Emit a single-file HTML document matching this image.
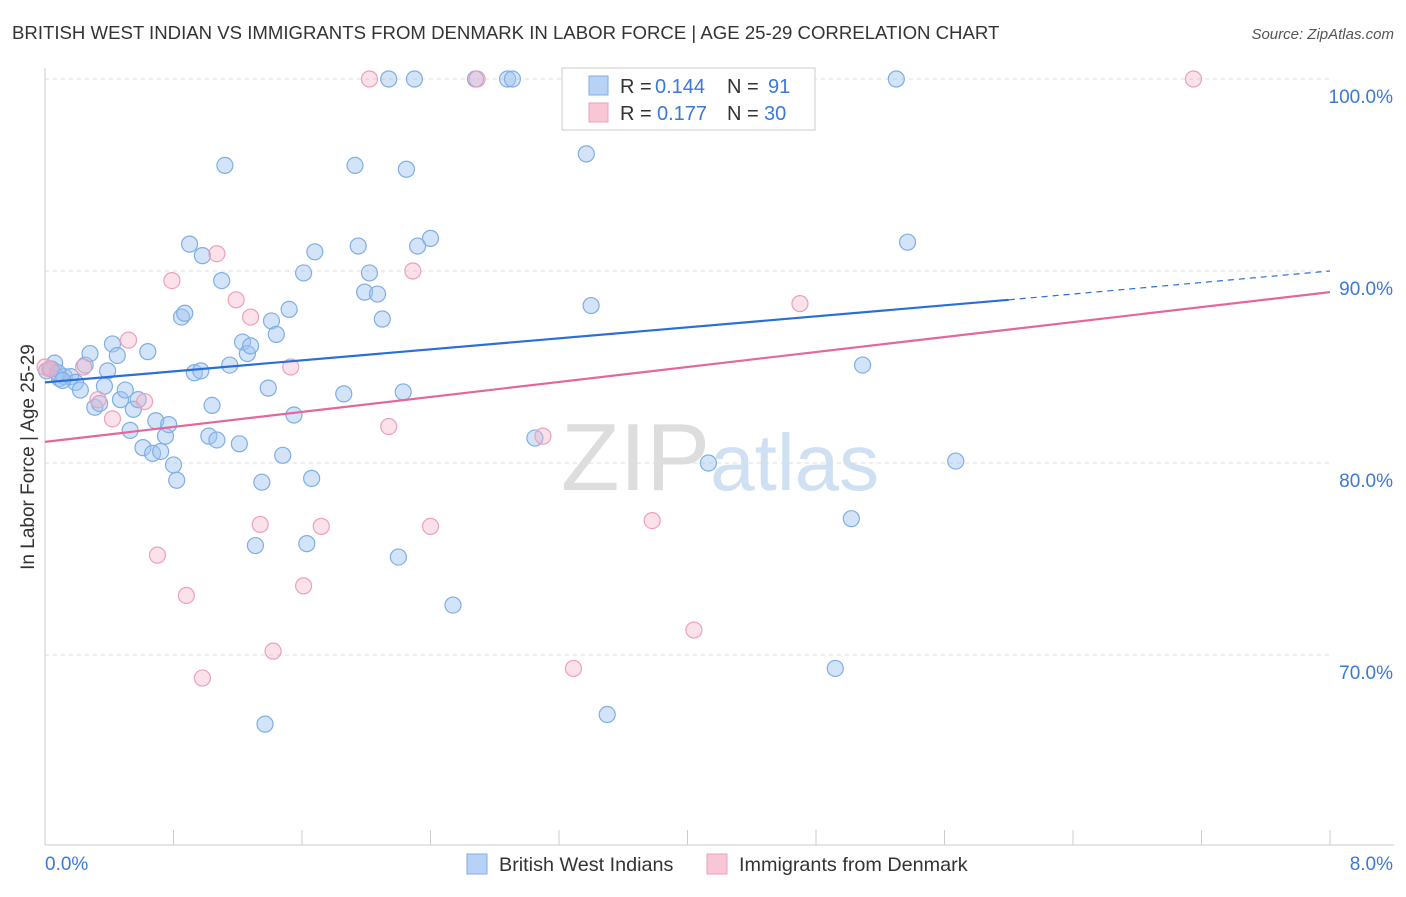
<!DOCTYPE html>
<html><head><meta charset="utf-8"><style>
body{margin:0;background:#fff;font-family:"Liberation Sans",sans-serif;}
svg text{font-family:"Liberation Sans",sans-serif;}
</style></head><body>
<svg id="chart" width="1406" height="892">
<text x="12" y="39" font-size="18.6" fill="#333">BRITISH WEST INDIAN VS IMMIGRANTS FROM DENMARK IN LABOR FORCE | AGE 25-29 CORRELATION CHART</text>
<text x="1394" y="39" font-size="15" fill="#555" font-style="italic" text-anchor="end">Source: ZipAtlas.com</text>
<text x="720" y="490" font-size="96" fill="#ddd" text-anchor="middle" font-family="Liberation Serif">ZIP<tspan fill="#cfe0f3" font-family="Liberation Sans" font-size="80">atlas</tspan></text>
<g id="grid"></g>
<g id="axes"></g>
<g id="points"></g>
<g id="trends"></g>
<text transform="translate(34,457) rotate(-90)" font-size="19" fill="#333" text-anchor="middle">In Labor Force | Age 25-29</text>
<g>
<rect x="562" y="68" width="253" height="62" fill="#fff" stroke="#ccc"/>
<rect x="589" y="76" width="19" height="19" fill="#b7d2f4" stroke="#7eaee6"/>
<rect x="589" y="103" width="19" height="19" fill="#f8c6d5" stroke="#eea0b8"/>
<text x="620" y="93" font-size="20" fill="#333">R =</text>
<text x="655" y="93" font-size="20" fill="#3b78d8">0.144</text>
<text x="727" y="93" font-size="20" fill="#333">N =</text>
<text x="768" y="93" font-size="20" fill="#3b78d8">91</text>
<text x="620" y="120" font-size="20" fill="#333">R =</text>
<text x="657" y="120" font-size="20" fill="#3b78d8">0.177</text>
<text x="727" y="120" font-size="20" fill="#333">N =</text>
<text x="764" y="120" font-size="20" fill="#3b78d8">30</text>
</g>
<g>
<rect x="467" y="854" width="20" height="20" fill="#b7d2f4" stroke="#7eaee6"/>
<text x="499" y="871" font-size="19.8" fill="#333">British West Indians</text>
<rect x="707" y="854" width="20" height="20" fill="#f8c6d5" stroke="#eea0b8"/>
<text x="739" y="871" font-size="19.8" fill="#333">Immigrants from Denmark</text>
</g>
</svg>
<script>
const yTicks=[100,90,80,70];
const xTickLabels=["0.0%","8.0%"];
const blueX=[0.03,0.06,0.09,0.12,0.16,0.19,0.22,0.25,0.28,0.31,0.34,0.37,0.39,0.42,0.45,0.47,0.50,0.53,0.55,0.58,0.61,0.64,0.67,0.69,0.72,0.75,0.77,0.80,0.82,0.85,0.87,0.90,0.93,0.97,0.98,1.02,1.04,1.07,1.10,1.12,1.15,1.21,1.23,1.26,1.28,1.31,1.35,1.37,1.39,1.41,1.44,1.48,1.52,1.55,1.61,1.63,1.66,1.68,1.86,1.93,1.95,1.99,2.02,2.07,2.10,2.14,2.20,2.23,2.25,2.30,2.32,2.40,2.54,2.68,2.88,2.91,3.05,3.37,3.40,3.50,4.13,4.92,5.02,5.09,5.30,5.37,5.67,0.01,0.04,0.08,0.11];
const blueY=[84.9,85.2,84.4,84.5,84.5,84.2,83.8,85.1,85.7,82.9,83.1,84.0,84.8,86.2,85.6,83.3,83.8,81.7,82.8,83.3,80.8,85.8,80.5,82.2,80.6,81.4,82.0,79.9,79.1,87.6,87.8,91.4,84.7,84.8,90.8,81.4,83.0,81.2,89.5,95.5,85.1,81.0,86.3,85.7,86.1,75.7,79.0,66.4,83.9,87.4,86.7,80.4,88.0,82.5,89.9,75.8,79.2,91.0,83.6,95.5,91.3,88.9,89.9,88.8,87.5,100,75.1,83.7,95.3,100,91.3,91.7,72.6,100,100,100,81.3,96.1,88.2,66.9,80.0,69.3,77.1,85.1,100,91.5,80.1,84.8,84.9,84.7,84.3];
const pinkX=[0.0,0.03,0.24,0.33,0.42,0.52,0.62,0.70,0.79,0.88,0.98,1.07,1.19,1.28,1.34,1.42,1.53,1.61,1.72,2.02,2.14,2.29,2.40,2.69,3.10,3.29,3.78,4.04,4.70,7.15];
const pinkY=[85.0,84.9,85.0,83.3,82.3,86.4,83.2,75.2,89.5,73.1,68.8,90.9,88.5,87.6,76.8,70.2,85.0,73.6,76.7,100,81.9,90.0,76.7,100,81.4,69.3,77.0,71.3,88.3,100];
const X0=45,X1=1330,Y100=79,PX_PER=19.2;
const sx=v=>X0+(X1-X0)*v/8, sy=v=>Y100+(100-v)*PX_PER;
const NS="http://www.w3.org/2000/svg";
function mk(tag,attrs,parent){const e=document.createElementNS(NS,tag);for(const k in attrs)e.setAttribute(k,attrs[k]);document.getElementById(parent).appendChild(e);return e;}
yTicks.forEach(t=>{
 const l=mk('line',{x1:X0,x2:X1,y1:sy(t),y2:sy(t),stroke:'#ddd','stroke-dasharray':'4,4'},'grid');
 
 
 const tx=mk('text',{x:1393,y:sy(t)+24,'font-size':19,fill:'#3b78d8','text-anchor':'end'},'grid');
 tx.textContent=t.toFixed(1)+'%';
 
 
});
const ax=mk('line',{x1:X0,x2:X0,y1:68,y2:845,stroke:'#ccc'},'axes');


const bx=mk('line',{x1:X0,x2:1394,y1:845,y2:845,stroke:'#ccc'},'axes');


for(let i=0;i<=10;i++){const x=sx(i*0.8);
 const t=mk('line',{x1:x,x2:x,y1:830,y2:845,stroke:'#ccc'},'axes');
 
 }
xTickLabels.forEach((s,i)=>{const t=mk('text',{x:i?1393:45,y:870,'font-size':19,fill:'#3b78d8','text-anchor':i?'end':'start'},'axes');t.textContent=s;
 
 });
blueX.forEach((v,i)=>{const c=mk('circle',{cx:sx(v),cy:sy(blueY[i]),r:8,fill:'rgba(160,195,240,0.45)',stroke:'#7eaee6','stroke-width':1.2},'points');
 
 });
pinkX.forEach((v,i)=>{const c=mk('circle',{cx:sx(v),cy:sy(pinkY[i]),r:8,fill:'rgba(245,180,200,0.4)',stroke:'#eea0b8','stroke-width':1.2},'points');
 
 });
const blueTrend=[84.2,88.5,90.0], pinkTrend=[81.1,88.9];
let t1=mk('line',{x1:sx(0),y1:sy(blueTrend[0]),x2:sx(6.0),y2:sy(blueTrend[1]),stroke:'#2a6fd6','stroke-width':2.2},'trends');


let t2=mk('line',{x1:sx(6.0),y1:sy(blueTrend[1]),x2:sx(8),y2:sy(blueTrend[2]),stroke:'#2a6fd6','stroke-width':1.2,'stroke-dasharray':'6,5'},'trends');


let t3=mk('line',{x1:sx(0),y1:sy(pinkTrend[0]),x2:sx(8),y2:sy(pinkTrend[1]),stroke:'#e4679a','stroke-width':2.2},'trends');


</script>
</body></html>
